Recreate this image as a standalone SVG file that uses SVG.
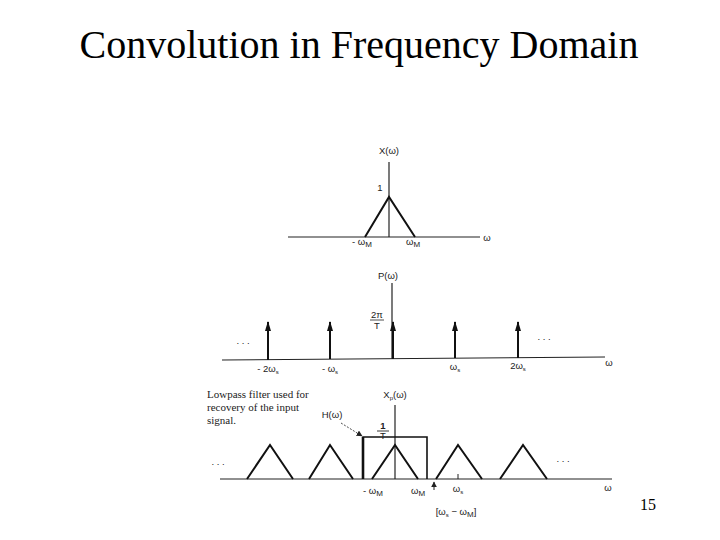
<svg xmlns="http://www.w3.org/2000/svg" width="720" height="540" viewBox="0 0 720 540">
<style>
.ax{stroke:#222;stroke-width:1.2;fill:none}
.sig{stroke:#111;stroke-width:2;fill:none}
.lb{font-family:"Liberation Sans",Arial,sans-serif;font-size:9.5px;fill:#222}
.sr{font-family:"Liberation Serif","Times New Roman",serif;fill:#222}
</style>
<defs>
<marker id="imp" viewBox="0 0 10 10" refX="9" refY="5" markerWidth="10" markerHeight="6" orient="auto" markerUnits="userSpaceOnUse" preserveAspectRatio="none">
<path d="M0,0 L10,5 L0,10 Z" fill="#111"/>
</marker>
<marker id="ah" viewBox="0 0 10 10" refX="9" refY="5" markerWidth="6" markerHeight="6" orient="auto" markerUnits="userSpaceOnUse">
<path d="M0,0 L10,5 L0,10 Z" fill="#222"/>
</marker>
</defs>
<rect width="720" height="540" fill="#fff"/>
<text x="359" y="58" text-anchor="middle" font-family="'Liberation Serif','Times New Roman',serif" font-size="40" fill="#000">Convolution in Frequency Domain</text>
<text x="648" y="510" text-anchor="middle" font-family="'Liberation Serif','Times New Roman',serif" font-size="16" fill="#000">15</text>

<g id="panel1">
<line class="ax" x1="288" y1="237" x2="480" y2="237"/>
<line class="ax" x1="389" y1="162" x2="389" y2="237"/>
<polyline class="sig" points="365,237 389,197 415,237"/>
<text class="lb" x="389" y="154" text-anchor="middle">X(ω)</text>
<text class="lb" x="380" y="191" text-anchor="middle">1</text>
<text class="lb" x="362" y="245" text-anchor="middle">- ω<tspan font-size="8" dy="2">M</tspan></text>
<text class="lb" x="413" y="245" text-anchor="middle">ω<tspan font-size="8" dy="2">M</tspan></text>
<text class="lb" x="487" y="241" text-anchor="middle">ω</text>
</g>

<g id="panel2">
<line class="ax" x1="222" y1="360" x2="605" y2="357"/>
<line class="ax" x1="392" y1="283" x2="392" y2="359"/>
<g class="sig">
<line x1="268" y1="360" x2="268" y2="322" marker-end="url(#imp)"/>
<line x1="330" y1="359" x2="330" y2="322" marker-end="url(#imp)"/>
<line x1="393" y1="359" x2="393" y2="322" marker-end="url(#imp)"/>
<line x1="455" y1="358" x2="455" y2="322" marker-end="url(#imp)"/>
<line x1="518" y1="358" x2="518" y2="322" marker-end="url(#imp)"/>
</g>
<text class="lb" x="388" y="279" text-anchor="middle">P(ω)</text>
<text class="lb" x="377" y="318" text-anchor="middle">2π</text>
<line x1="370" y1="320" x2="384" y2="320" stroke="#222" stroke-width="0.8"/>
<text class="lb" x="377" y="329" text-anchor="middle">T</text>
<text class="lb" x="243" y="344" text-anchor="middle">. . .</text>
<text class="lb" x="544" y="340" text-anchor="middle">. . .</text>
<text class="lb" x="268" y="372" text-anchor="middle">- 2ω<tspan font-size="6" dy="2">s</tspan></text>
<text class="lb" x="330" y="372" text-anchor="middle">- ω<tspan font-size="6" dy="2">s</tspan></text>
<text class="lb" x="455" y="370" text-anchor="middle">ω<tspan font-size="6" dy="2">s</tspan></text>
<text class="lb" x="518" y="369" text-anchor="middle">2ω<tspan font-size="6" dy="2">s</tspan></text>
<text class="lb" x="609" y="366" text-anchor="middle">ω</text>
</g>

<g id="panel3">
<line class="ax" x1="220" y1="479" x2="612" y2="479"/>
<line class="ax" x1="395" y1="405" x2="395" y2="479"/>
<g class="sig">
<polyline points="247,479 270,445 293,479"/>
<polyline points="309,479 330,445 353,479"/>
<polyline points="372,479 395,445 418,479"/>
<polyline points="436,479 458,445 482,479"/>
<polyline points="500,479 523,445 547,479"/>
</g>
<polyline points="363,479 363,437 427,437 427,479" fill="none" stroke="#111" stroke-width="1.6"/>
<line x1="363" y1="437" x2="363" y2="479" stroke="#111" stroke-width="2.6"/>
<text class="lb" x="395" y="398" text-anchor="middle">X<tspan font-size="6" dy="2">p</tspan><tspan dy="-2">(ω)</tspan></text>
<text class="lb" x="383" y="429" text-anchor="middle" font-weight="bold">1</text>
<line x1="377" y1="431" x2="389" y2="431" stroke="#222" stroke-width="0.9"/>
<text class="lb" x="383" y="439" text-anchor="middle">T</text>
<text class="lb" x="332" y="418" text-anchor="middle">H(ω)</text>
<line x1="341" y1="423" x2="362" y2="436" stroke="#222" stroke-width="0.8" stroke-dasharray="2,1.5" marker-end="url(#ah)"/>
<text class="sr" font-size="11" x="207" y="398">Lowpass filter used for</text>
<text class="sr" font-size="11" x="207" y="411">recovery of the input</text>
<text class="sr" font-size="11" x="207" y="424">signal.</text>
<text class="lb" x="218" y="465" text-anchor="middle">. . .</text>
<text class="lb" x="563" y="462" text-anchor="middle">. . .</text>
<text class="lb" x="373" y="494" text-anchor="middle">- ω<tspan font-size="8" dy="2">M</tspan></text>
<text class="lb" x="418" y="494" text-anchor="middle">ω<tspan font-size="8" dy="2">M</tspan></text>
<text class="lb" x="458" y="492" text-anchor="middle">ω<tspan font-size="6" dy="2">s</tspan></text>
<line x1="458" y1="474" x2="458" y2="479" stroke="#222" stroke-width="1"/>
<line x1="434" y1="490" x2="434" y2="482" stroke="#222" stroke-width="1" marker-end="url(#ah)"/>
<text class="lb" x="456" y="515" text-anchor="middle">[ω<tspan font-size="6" dy="2">s</tspan><tspan dy="-2"> − ω</tspan><tspan font-size="8" dy="2">M</tspan><tspan dy="-2">]</tspan></text>
<text class="lb" x="608" y="491" text-anchor="middle">ω</text>
</g>
</svg>
